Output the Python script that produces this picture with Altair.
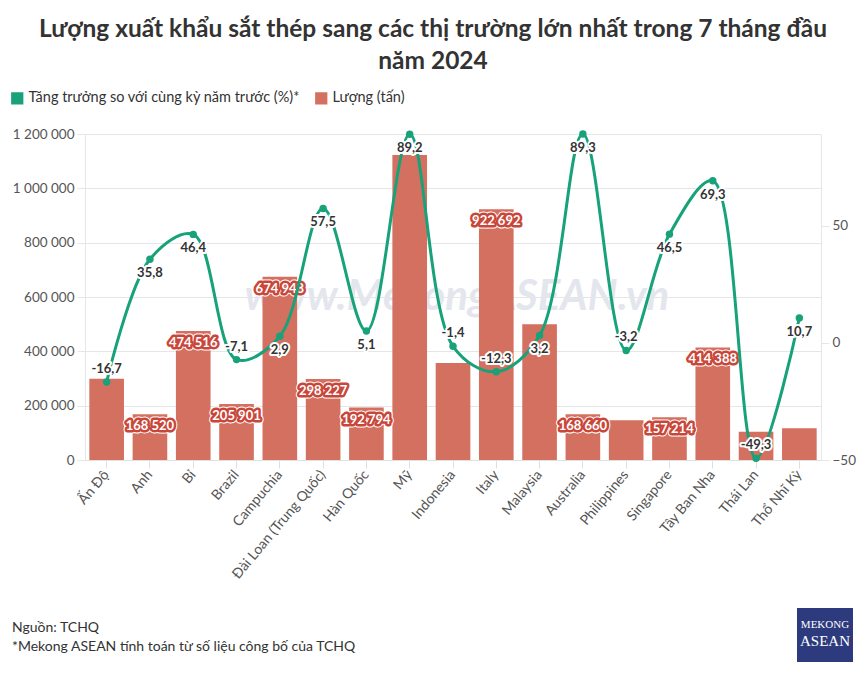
import altair as alt
import pandas as pd

countries = ["Ấn Độ", "Anh", "Bỉ", "Brazil", "Campuchia", "Đài Loan (Trung Quốc)", "Hàn Quốc", "Mỹ",
             "Indonesia", "Italy", "Malaysia", "Australia", "Philippines", "Singapore", "Tây Ban Nha",
             "Thái Lan", "Thổ Nhĩ Kỳ"]
volume = [299000, 168520, 474516, 205901, 674948, 298227, 192794, 1122700,
          357000, 922692, 500000, 168660, 146000, 157214, 414388, 104000, 117000]
growth = [-16.7, 35.8, 46.4, -7.1, 2.9, 57.5, 5.1, 89.2,
          -1.4, -12.3, 3.2, 89.3, -3.2, 46.5, 69.3, -49.3, 10.7]
show_volume_label = [False, True, True, True, True, True, True, False,
                     False, True, False, True, False, True, True, False, False]

title_lines = ["Lượng xuất khẩu sắt thép sang các thị trường lớn nhất trong 7 tháng đầu", "năm 2024"]
series_names = ["Tăng trưởng so với cùng kỳ năm trước (%)*", "Lượng (tấn)"]
footer_lines = ["Nguồn: TCHQ", "*Mekong ASEAN tính toán từ số liệu công bố của TCHQ"]
watermark = "www.MekongASEAN.vn"

GREEN = "#17a279"
RED = "#d47060"
LABEL_RED = "#c9473a"
FONT = "Lato"

df = pd.DataFrame({"country": countries, "volume": volume, "growth": growth, "show": show_volume_label})
df["vol_label"] = [f"{v:,}".replace(",", " ") for v in volume]
df["g_label"] = [f"{g:.1f}".replace(".", ",") for g in growth]

x_enc = alt.X("country:N", sort=countries, title=None,
              scale=alt.Scale(paddingInner=0.2, paddingOuter=0.1),
              axis=alt.Axis(labelAngle=310, labelFontSize=14, labelColor="#555", labelFont=FONT,
                            tickColor="#e0e0e0", tickSize=8, domainColor="#e0e0e0", labelPadding=4))

vol_scale = alt.Scale(domain=[0, 1200000], nice=False)
g_scale = alt.Scale(domain=[-50, 89.3], nice=False)

base = alt.Chart(df)

bars = base.mark_bar(opacity=1).encode(
    x=x_enc,
    y=alt.Y("volume:Q", scale=vol_scale, title=None,
            axis=alt.Axis(values=[0, 200000, 400000, 600000, 800000, 1000000, 1200000],
                          labelExpr="replace(format(datum.value, ','), regexp(',', 'g'), ' ')",
                          labelFontSize=13.5, labelColor="#555", labelFont=FONT,
                          gridColor="#e6e6e6", tickColor="#e6e6e6", tickSize=8,
                          domainColor="#e6e6e6", labelPadding=3)),
    color=alt.Color("series:N", scale=alt.Scale(domain=series_names, range=[GREEN, RED]),
                    legend=alt.Legend(orient="none", legendX=-75, legendY=-43, direction="horizontal",
                                      title=None, symbolType="square", symbolSize=150,
                                      labelFontSize=14.5, labelColor="#333", labelFont=FONT,
                                      labelLimit=0, columnPadding=14, symbolStrokeWidth=0)),
).transform_calculate(series=f"'{series_names[1]}'")

wm = alt.Chart(pd.DataFrame({"t": [watermark]})).mark_text(
    fontSize=42, fontWeight="bold", fontStyle="italic", color="#e4e6ee", font=FONT
).encode(text="t:N", x=alt.value(372), y=alt.value(163))


def vol_text(stroke, sw, fill):
    kw = dict(fontSize=13, fontWeight="bold", font=FONT, dy=12, fill=fill)
    if stroke:
        kw.update(stroke=stroke, strokeWidth=sw, strokeJoin="round")
    return base.transform_filter("datum.show").mark_text(**kw).encode(
        x=alt.X("country:N", sort=countries),
        y=alt.Y("volume:Q", scale=vol_scale),
        text="vol_label:N")


left = alt.layer(wm, bars, vol_text("white", 7, "white"), vol_text(LABEL_RED, 5, LABEL_RED),
                 vol_text(None, 0, "white"))

y_g = alt.Y("growth:Q", scale=g_scale, title=None,
            axis=alt.Axis(orient="right", values=[-50, 0, 50], grid=False,
                          labelFontSize=13.5, labelColor="#555", labelFont=FONT,
                          tickColor="#e6e6e6", tickSize=8, domainColor="#e6e6e6", labelPadding=3))

line = base.mark_line(interpolate="catmull-rom", color=GREEN, strokeWidth=3).encode(
    x=alt.X("country:N", sort=countries), y=y_g)
pts = base.mark_circle(size=55, opacity=1).encode(
    x=alt.X("country:N", sort=countries),
    y=alt.Y("growth:Q", scale=g_scale),
    color=alt.Color("series:N", scale=alt.Scale(domain=series_names, range=[GREEN, RED]))
).transform_calculate(series=f"'{series_names[0]}'")


def g_text(cond, dy, stroke, sw, fill):
    kw = dict(fontSize=13, fontWeight="bold", font=FONT, dy=dy, fill=fill)
    if stroke:
        kw.update(stroke=stroke, strokeWidth=sw, strokeJoin="round")
    return base.transform_filter(cond).mark_text(**kw).encode(
        x=alt.X("country:N", sort=countries),
        y=alt.Y("growth:Q", scale=g_scale),
        text="g_label:N")


right = alt.layer(
    line, pts,
    g_text("datum.growth < 0", -13, "white", 4, "white"),
    g_text("datum.growth < 0", -13, None, 0, "#333"),
    g_text("datum.growth >= 0", 14, "white", 4, "white"),
    g_text("datum.growth >= 0", 14, None, 0, "#333"),
)

foot_df = pd.DataFrame({"t": footer_lines, "yy": [494, 513]})
footer = alt.Chart(foot_df).mark_text(align="left", baseline="middle", fontSize=14, color="#333",
                                      font=FONT).encode(
    text="t:N", x=alt.value(-73), y=alt.Y("yy:Q", scale=None))

logo_rect = alt.Chart(pd.DataFrame({"a": [1]})).mark_rect(color="#2d3a7e").encode(
    x=alt.value(712), x2=alt.value(768), y=alt.value(474), y2=alt.value(528))
logo_df = pd.DataFrame({"t": ["MEKONG", "ASEAN"], "yy": [491, 507], "fs": [11, 15]})
logo_text = alt.Chart(logo_df).mark_text(color="white", font="Liberation Serif", baseline="middle").encode(
    text="t:N", x=alt.value(740), y=alt.Y("yy:Q", scale=None), size=alt.Size("fs:Q", scale=None, legend=None))

deco = alt.layer(footer, logo_rect, logo_text)

chart = alt.layer(left, right, deco).resolve_scale(y="independent", color="shared").properties(
    width=736, height=326,
    title=alt.TitleParams(title_lines, fontSize=24.5, fontWeight="bold", color="#333", font=FONT,
                          anchor="middle", dx=-20, offset=17, lineHeight=32),
    autosize=alt.AutoSizeParams(type="none"),
    padding={"left": 77, "top": 126, "right": 37, "bottom": 211},
).configure_view(stroke=None).configure_axis(gridColor="#e6e6e6")

chart.save("out.html", embed_options={"renderer": "svg", "actions": False})
